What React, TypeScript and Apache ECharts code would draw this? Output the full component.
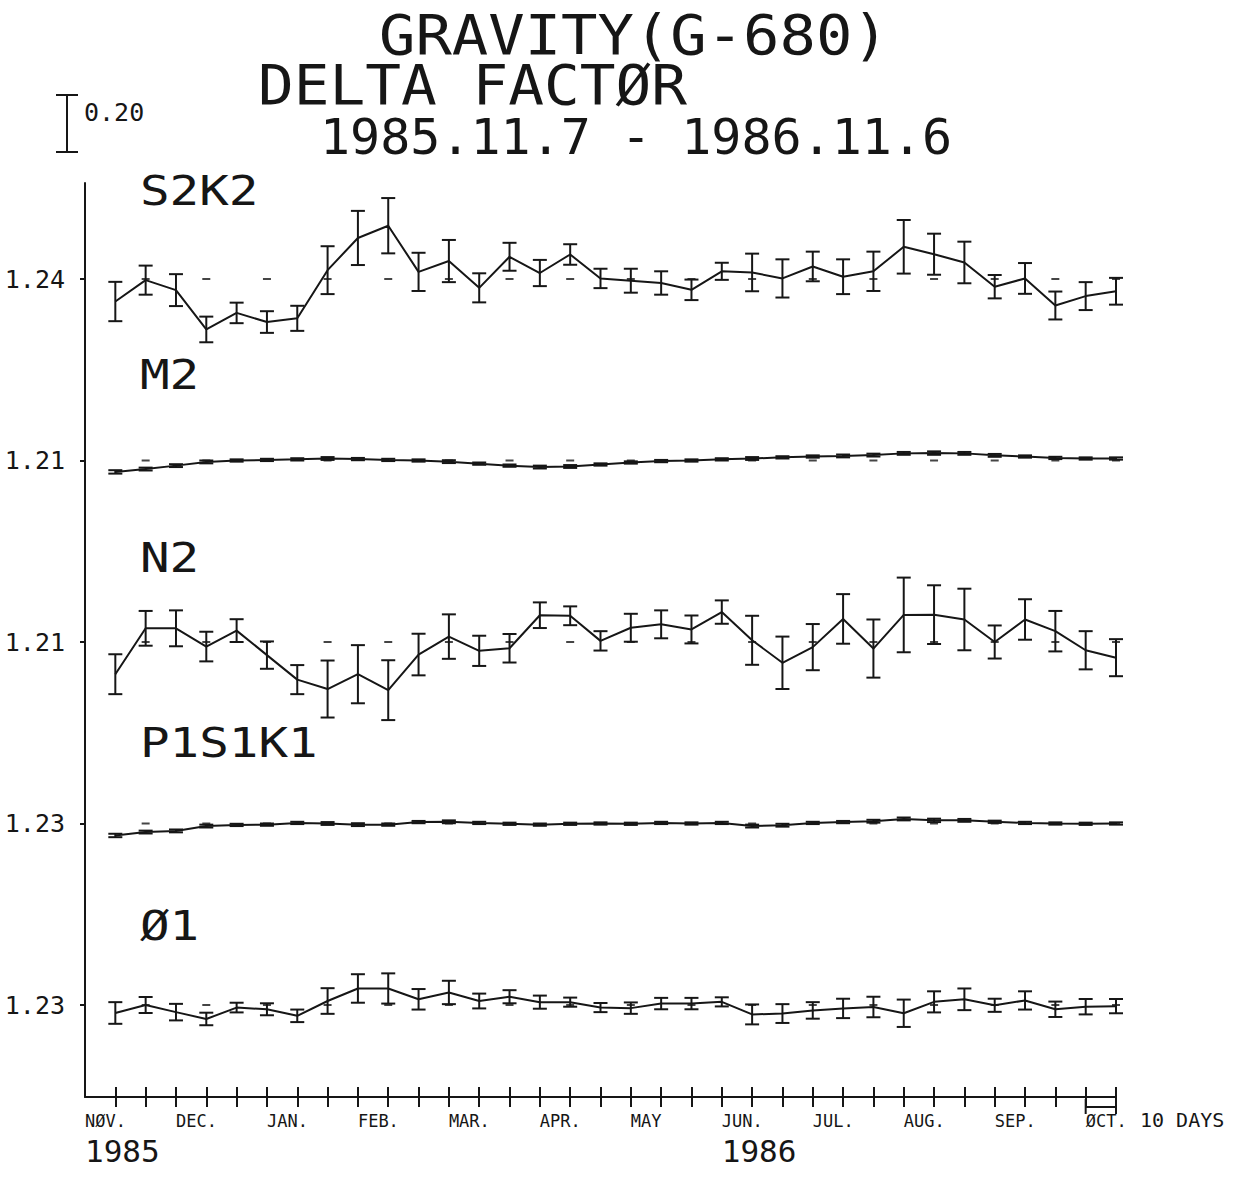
import { useEffect, useRef } from 'react';
import * as echarts from 'echarts';

const INK = '#161616';
const PAPER = '#ffffff';
const FONT = '"DejaVu Sans Mono", "Liberation Mono", monospace';

// 10-day analysis windows, numbered from the start of the record
const WINDOWS = [1, 2, 3, 4, 5, 6, 7, 8, 9, 10, 11, 12, 13, 14, 15, 16, 17, 18, 19, 20, 21, 22, 23, 24, 25, 26, 27, 28, 29, 30, 31, 32, 33, 34];

// Reference level marks (every second window)
const REFERENCE_MARKS = [2, 4, 6, 8, 10, 12, 14, 16, 18, 20, 22, 24, 26, 28, 30, 32, 34];

const WAVE_NAMES = ['S2K2', 'M2', 'N2', 'P1S1K1', 'Ø1'];
const BASE_LEVELS = [1.24, 1.21, 1.21, 1.23, 1.23];

const S2K2_DELTA = [1.161, 1.236, 1.201, 1.063, 1.121, 1.089, 1.102, 1.271, 1.384, 1.427, 1.265, 1.303, 1.209, 1.318, 1.261, 1.326, 1.242, 1.234, 1.226, 1.202, 1.267, 1.263, 1.242, 1.284, 1.248, 1.267, 1.353, 1.327, 1.298, 1.213, 1.242, 1.147, 1.180, 1.197];
const S2K2_ERR = [0.069, 0.051, 0.056, 0.045, 0.036, 0.038, 0.044, 0.084, 0.095, 0.097, 0.067, 0.074, 0.051, 0.049, 0.046, 0.036, 0.034, 0.042, 0.041, 0.036, 0.030, 0.066, 0.067, 0.052, 0.061, 0.069, 0.094, 0.072, 0.073, 0.041, 0.054, 0.049, 0.049, 0.047];

const M2_DELTA = [1.170, 1.180, 1.192, 1.205, 1.210, 1.212, 1.214, 1.217, 1.215, 1.212, 1.210, 1.206, 1.199, 1.192, 1.187, 1.189, 1.196, 1.203, 1.208, 1.210, 1.214, 1.217, 1.221, 1.224, 1.226, 1.229, 1.235, 1.236, 1.235, 1.228, 1.224, 1.219, 1.217, 1.217];
const M2_ERR = [0.006, 0.005, 0.005, 0.005, 0.004, 0.004, 0.004, 0.005, 0.004, 0.004, 0.004, 0.005, 0.004, 0.004, 0.005, 0.005, 0.004, 0.004, 0.004, 0.004, 0.004, 0.005, 0.004, 0.004, 0.005, 0.005, 0.005, 0.006, 0.005, 0.005, 0.004, 0.004, 0.004, 0.004];

const N2_DELTA = [1.097, 1.258, 1.258, 1.194, 1.250, 1.164, 1.078, 1.045, 1.097, 1.041, 1.166, 1.229, 1.179, 1.188, 1.304, 1.302, 1.214, 1.260, 1.272, 1.254, 1.315, 1.216, 1.137, 1.192, 1.291, 1.187, 1.305, 1.306, 1.289, 1.210, 1.289, 1.248, 1.181, 1.155];
const N2_ERR = [0.070, 0.061, 0.063, 0.052, 0.040, 0.048, 0.051, 0.100, 0.102, 0.105, 0.073, 0.078, 0.053, 0.050, 0.045, 0.033, 0.034, 0.049, 0.049, 0.049, 0.041, 0.086, 0.092, 0.081, 0.087, 0.102, 0.131, 0.103, 0.108, 0.058, 0.071, 0.071, 0.067, 0.065];

const P1S1K1_DELTA = [1.188, 1.200, 1.204, 1.221, 1.225, 1.226, 1.232, 1.230, 1.226, 1.226, 1.235, 1.236, 1.232, 1.229, 1.226, 1.229, 1.230, 1.229, 1.232, 1.230, 1.232, 1.221, 1.224, 1.232, 1.235, 1.238, 1.246, 1.241, 1.241, 1.236, 1.232, 1.230, 1.229, 1.230];
const P1S1K1_ERR = [0.006, 0.005, 0.005, 0.005, 0.004, 0.004, 0.004, 0.005, 0.005, 0.004, 0.004, 0.005, 0.004, 0.004, 0.004, 0.004, 0.004, 0.004, 0.004, 0.004, 0.004, 0.005, 0.005, 0.004, 0.004, 0.005, 0.005, 0.006, 0.005, 0.004, 0.004, 0.004, 0.004, 0.004];

const O1_DELTA = [1.202, 1.230, 1.205, 1.181, 1.221, 1.215, 1.192, 1.244, 1.288, 1.288, 1.250, 1.274, 1.244, 1.259, 1.240, 1.240, 1.221, 1.219, 1.235, 1.235, 1.241, 1.197, 1.200, 1.211, 1.218, 1.223, 1.201, 1.241, 1.250, 1.229, 1.246, 1.215, 1.224, 1.226];
const O1_ERR = [0.038, 0.028, 0.029, 0.022, 0.017, 0.021, 0.022, 0.045, 0.050, 0.053, 0.036, 0.041, 0.026, 0.023, 0.023, 0.016, 0.016, 0.020, 0.020, 0.020, 0.016, 0.035, 0.033, 0.029, 0.034, 0.036, 0.048, 0.037, 0.038, 0.023, 0.032, 0.027, 0.027, 0.025];

const DELTAS = [S2K2_DELTA, M2_DELTA, N2_DELTA, P1S1K1_DELTA, O1_DELTA];
const ERRORS = [S2K2_ERR, M2_ERR, N2_ERR, P1S1K1_ERR, O1_ERR];

// Time axis: month labels at every third 10-day step
const MONTH_POSITIONS = [0, 3, 6, 9, 12, 15, 18, 21, 24, 27, 30, 33];
const MONTH_LABELS = ['NØV.', 'DEC.', 'JAN.', 'FEB.', 'MAR.', 'APR.', 'MAY', 'JUN.', 'JUL.', 'AUG.', 'SEP.', 'ØCT.'];
const YEAR_POSITIONS = [0, 21];
const YEAR_LABELS = ['1985', '1986'];
const TIME_TICKS = WINDOWS;

const SCALE_BAR_VALUE = 0.2;
const SCALE_BAR_TEXT = '0.20';
const UNIT_SPAN = [33, 34];
const UNIT_TEXT = '10 DAYS';

// Layout
const PLOT_LEFT = 85;
const PLOT_WIDTH = 1031;
const PANEL_BASELINE_Y = [279, 460.5, 642, 823.5, 1005];
const PANEL_BOUNDS = [183, 369.75, 551.25, 732.75, 914.25, 1097];
const PX_PER_UNIT = 57 / 0.2;
const CAP = 7;

function penText(text: string, x: number, y: number, fontSize: number, scaleX: number) {
  return {
    type: 'text', x, y, scaleX,
    style: {
      text, fontFamily: FONT, fontSize, fill: INK,
      align: 'left', verticalAlign: 'middle',
    },
  };
}

function errorBarItem(_params: any, api: any) {
  const x = api.value(0);
  const v = api.value(1);
  const e = api.value(2);
  const hi = api.coord([x, v + e]);
  const lo = api.coord([x, v - e]);
  const style = { stroke: INK, lineWidth: 2, fill: 'none' };
  return {
    type: 'group',
    children: [
      { type: 'line', shape: { x1: hi[0], y1: hi[1], x2: lo[0], y2: lo[1] }, style },
      { type: 'line', shape: { x1: hi[0] - CAP, y1: hi[1], x2: hi[0] + CAP, y2: hi[1] }, style },
      { type: 'line', shape: { x1: lo[0] - CAP, y1: lo[1], x2: lo[0] + CAP, y2: lo[1] }, style },
    ],
  };
}

function scaleBarItem(_params: any, api: any) {
  const p0 = api.coord([0, BASE_LEVELS[0]]);
  const p1 = api.coord([0, BASE_LEVELS[0] + SCALE_BAR_VALUE]);
  const len = p0[1] - p1[1];
  const bx = 67;
  const bottom = 152;
  const top = bottom - len;
  const style = { stroke: INK, lineWidth: 2, fill: 'none' };
  return {
    type: 'group',
    children: [
      { type: 'line', shape: { x1: bx, y1: top, x2: bx, y2: bottom }, style },
      { type: 'line', shape: { x1: bx - 11, y1: top, x2: bx + 11, y2: top }, style },
      { type: 'line', shape: { x1: bx - 11, y1: bottom, x2: bx + 11, y2: bottom }, style },
      {
        type: 'text',
        style: {
          text: SCALE_BAR_TEXT, x: bx + 17, y: top + 17,
          fill: INK, fontSize: 25, fontFamily: FONT, align: 'left', verticalAlign: 'middle',
        },
      },
    ],
  };
}

function unitSpanItem(params: any, api: any) {
  const a = api.coord([api.value(0), BASE_LEVELS[4]]);
  const b = api.coord([api.value(1), BASE_LEVELS[4]]);
  const bottom = params.coordSys.y + params.coordSys.height;
  const style = { stroke: INK, lineWidth: 2, fill: 'none' };
  return {
    type: 'group',
    children: [
      { type: 'line', shape: { x1: a[0], y1: bottom + 2, x2: a[0], y2: bottom + 17 }, style },
      { type: 'line', shape: { x1: b[0], y1: bottom + 2, x2: b[0], y2: bottom + 17 }, style },
      { type: 'line', shape: { x1: a[0], y1: bottom + 10, x2: b[0], y2: bottom + 10 }, style },
      {
        type: 'text',
        style: {
          text: UNIT_TEXT, x: b[0] + 24, y: bottom + 23,
          fill: INK, fontSize: 20, fontFamily: FONT, align: 'left', verticalAlign: 'middle',
        },
      },
    ],
  };
}

function buildOption() {
  const grids: any[] = [];
  const xAxes: any[] = [];
  const yAxes: any[] = [];
  const series: any[] = [];

  WAVE_NAMES.forEach((_name, k) => {
    const top = PANEL_BOUNDS[k];
    const bottom = PANEL_BOUNDS[k + 1];
    const base = BASE_LEVELS[k];
    grids.push({ left: PLOT_LEFT, width: PLOT_WIDTH, top, height: bottom - top });
    const isLast = k === WAVE_NAMES.length - 1;
    xAxes.push({
      type: 'value', gridIndex: k, min: 0, max: 34, position: 'bottom',
      show: isLast,
      axisLine: { show: isLast, onZero: false, lineStyle: { color: INK, width: 2 } },
      axisTick: { show: isLast, inside: true, length: 10, customValues: TIME_TICKS, lineStyle: { color: INK, width: 2 } },
      axisLabel: {
        show: isLast,
        customValues: MONTH_POSITIONS,
        align: 'left',
        margin: 13,
        formatter: (v: number) => {
          const m = MONTH_LABELS[MONTH_POSITIONS.indexOf(Math.round(v))] ?? '';
          const yi = YEAR_POSITIONS.indexOf(Math.round(v));
          return yi >= 0 ? `{m|${m}}\n{y|${YEAR_LABELS[yi]}}` : `{m|${m}}`;
        },
        rich: {
          m: { fontFamily: FONT, fontSize: 17, lineHeight: 22, color: INK },
          y: { fontFamily: FONT, fontSize: 31, lineHeight: 38, color: INK },
        },
      },
      splitLine: { show: false },
    });
    yAxes.push({
      type: 'value', gridIndex: k,
      min: base - (bottom - PANEL_BASELINE_Y[k]) / PX_PER_UNIT,
      max: base + (PANEL_BASELINE_Y[k] - top) / PX_PER_UNIT,
      axisLine: { show: true, onZero: false, lineStyle: { color: INK, width: 2 } },
      axisTick: { show: true, length: 5, customValues: [base], lineStyle: { color: INK, width: 2 } },
      axisLabel: {
        customValues: [base], margin: 20,
        formatter: (v: number) => v.toFixed(2),
        fontFamily: FONT, fontSize: 25, color: INK,
      },
      splitLine: { show: false },
    });

    const delta = DELTAS[k];
    const err = ERRORS[k];
    series.push({
      type: 'scatter', xAxisIndex: k, yAxisIndex: k, silent: true, z: 2,
      symbol: 'rect', symbolSize: [8, 2], itemStyle: { color: INK },
      data: REFERENCE_MARKS.map((w) => [w, base]),
    });
    series.push({
      type: 'custom', xAxisIndex: k, yAxisIndex: k, silent: true, z: 3,
      renderItem: errorBarItem,
      encode: { x: 0, y: 1 },
      data: WINDOWS.map((w, i) => [w, delta[i], err[i]]),
    });
    series.push({
      type: 'line', xAxisIndex: k, yAxisIndex: k, silent: true, z: 4,
      symbol: 'none', showSymbol: false,
      lineStyle: { color: INK, width: 2 },
      data: WINDOWS.map((w, i) => [w, delta[i]]),
    });
  });

  // outward half of the time-axis ticks
  xAxes.push({
    type: 'value', gridIndex: 4, min: 0, max: 34, position: 'bottom',
    axisLine: { show: false },
    axisTick: { show: true, inside: false, length: 10, customValues: TIME_TICKS, lineStyle: { color: INK, width: 2 } },
    axisLabel: { show: false },
    splitLine: { show: false },
  });

  series.push({
    type: 'custom', xAxisIndex: 0, yAxisIndex: 0, silent: true,
    renderItem: scaleBarItem, data: [[0, BASE_LEVELS[0]]],
  });
  series.push({
    type: 'custom', xAxisIndex: 4, yAxisIndex: 4, silent: true,
    renderItem: unitSpanItem, data: [UNIT_SPAN],
    encode: { x: [0, 1] },
  });

  const labelY = [191, 375, 558, 743, 926];
  const graphic: any[] = [
    penText('GRAVITY(G-680)', 379, 35, 55, 1.1),
    penText('DELTA FACTØR', 258, 85, 55, 1.08),
    penText('1985.11.7 - 1986.11.6', 320, 137, 50, 1.0),
    ...WAVE_NAMES.map((name, k) => penText(name, 140, labelY[k], 41, 1.2)),
  ];

  return {
    animation: false,
    backgroundColor: PAPER,
    grid: grids,
    xAxis: xAxes,
    yAxis: yAxes,
    series,
    graphic,
  };
}

export default function App() {
  const ref = useRef<HTMLDivElement>(null);
  useEffect(() => {
    if (!ref.current) return;
    const chart = echarts.init(ref.current, undefined, { renderer: 'svg' });
    chart.setOption(buildOption() as any);
    return () => chart.dispose();
  }, []);
  return (
    <div
      ref={ref}
      style={{ position: 'absolute', left: 0, top: 0, width: 1234, height: 1191, background: PAPER }}
    />
  );
}
